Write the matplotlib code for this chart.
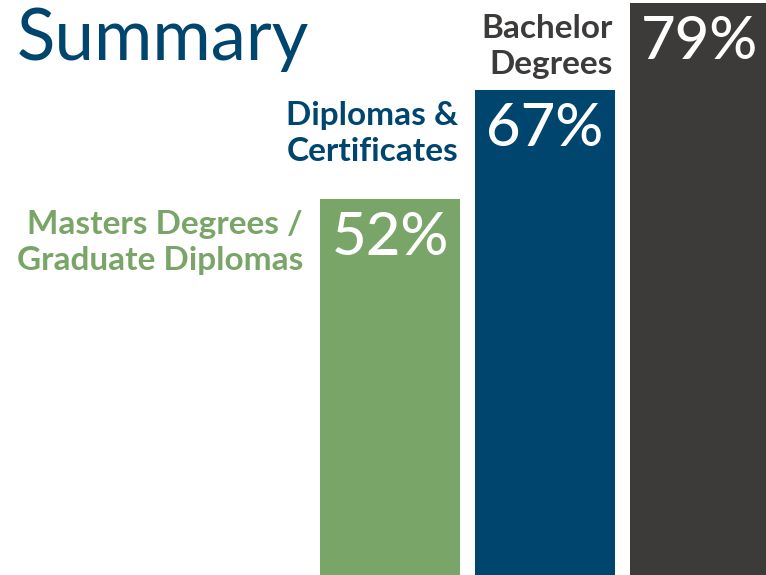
import matplotlib.pyplot as plt

plt.rcParams['font.family'] = ['Lato', 'DejaVu Sans']

categories = ['Masters Degrees /\nGraduate Diplomas',
              'Diplomas &\nCertificates',
              'Bachelor\nDegrees']
values = [52, 67, 79]
colors = ['#79a668', '#00456e', '#3d3b3a']

fig = plt.figure(figsize=(7.66, 5.75), dpi=100)
ax = fig.add_axes([0, 0, 1, 1])
ax.axis('off')

xs = range(len(values))
width = 140 / 155
ax.bar(xs, values, width=width, color=colors)
ax.set_xlim(-390 / 155, 376 / 155)
ax.set_ylim(0, 575 / 7.24)

for x, v, c, lab in zip(xs, values, colors, categories):
    # big white percentage inside bar
    ax.annotate('{0}%'.format(v), xy=(x, v), xytext=(0, -56),
                textcoords='offset pixels', ha='center', va='baseline',
                fontsize=43, fontweight='medium', color='white')
    # two-line category label to the left of the bar top
    for i, line in enumerate(lab.split('\n')):
        ax.annotate(line, xy=(x - width / 2, v), xytext=(-17, -35 - 36 * i),
                    textcoords='offset pixels', ha='right', va='baseline',
                    fontsize=24, fontweight='bold', color=c)

fig.text(17 / 766, 1 - 60 / 575, 'Summary', fontsize=51, color='#00456e',
         ha='left', va='baseline')

fig.savefig('out.png', dpi=100)
